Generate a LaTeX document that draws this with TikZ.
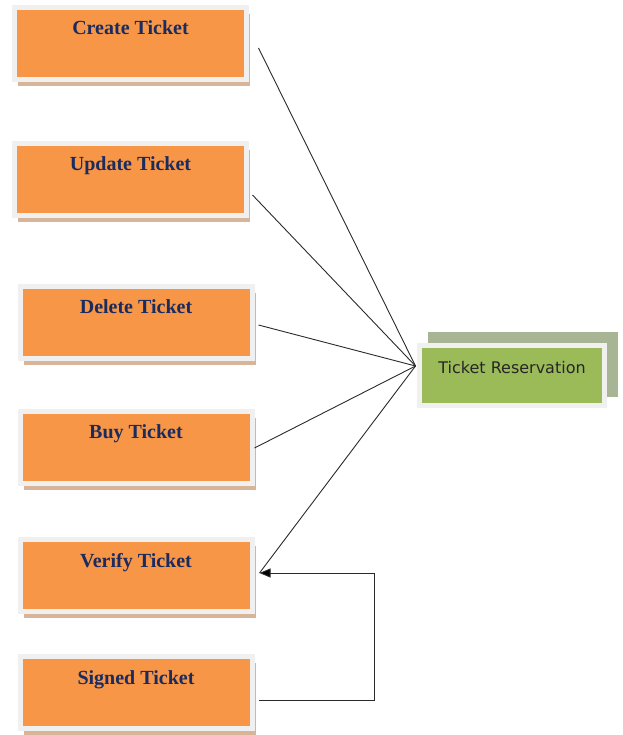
\documentclass[tikz,border=0pt]{standalone}
\usepackage{fontspec}
\newfontfamily\boxfont{Liberation Serif}
\newfontfamily\resfont{DejaVu Sans}
\usetikzlibrary{positioning,shadows,calc,arrows.meta}
\definecolor{boxorange}{HTML}{F79646}
\definecolor{boxframe}{HTML}{F0F0F0}
\definecolor{boxshade}{HTML}{D8B598}
\definecolor{boxtext}{HTML}{1A2B5F}
\definecolor{resgreen}{HTML}{9BBB59}
\definecolor{resback}{HTML}{A8B594}
\definecolor{linkgrey}{HTML}{2A2A2A}

\begin{document}
\begin{tikzpicture}[x=1pt,y=-1pt,task/.style={draw=boxframe,line width=5pt,fill=boxorange,minimum width=232pt,inner sep=0pt,text height=27.5pt,text depth=44.5pt,text=boxtext,font=\boxfont\bfseries\fontsize{20}{24}\selectfont,drop shadow={shadow xshift=3.5pt,shadow yshift=-6.5pt,fill=boxshade,opacity=1}},res/.style={draw=boxframe,line width=5pt,fill=resgreen,minimum width=185pt,inner sep=0pt,text height=27.5pt,text depth=32.5pt,text=black!85,font=\resfont\fontsize{16}{19}\selectfont},link/.style={draw=linkgrey,line width=0.9pt}]
\useasboundingbox (0,0) rectangle (622,735);
\node[task] (create) at (130.5,43.5) {Create Ticket};
\node[task] (update) at (130.5,179.5) {Update Ticket};
\node[task] (delete) at (136,322) {Delete Ticket};
\node[task] (buy) at (136,447) {Buy Ticket};
\node[task] (verify) at (136,575.5) {Verify Ticket};
\node[task] (signed) at (136,692.5) {Signed Ticket};
\node[fill=resback,minimum width=190pt,minimum height=65pt,inner sep=0pt] (resback) at (523,364.5) {};
\node[res] (reservation) at (512,375.5) {Ticket Reservation};
\coordinate (hub) at ($(reservation.west)+(-1.5,-9.5)$);
\coordinate (verifyin) at ($(verify.east)+(5,-2.5)$);
\draw[link] (hub) -- ($(create.east)+(9.5,4.5)$);
\draw[link] (hub) -- ($(update.east)+(3.5,15.5)$);
\draw[link] (hub) -- ($(delete.east)+(4,3)$);
\draw[link] (hub) -- ($(buy.east)+(0,1)$);
\draw[link] (hub) -- (verifyin);
\draw[link,-{Triangle[length=11pt,width=9pt,fill=black]}] ($(signed.east)+(4,7.5)$) -| ($(verifyin)+(115,0)$) -- (verifyin);
\end{tikzpicture}
\end{document}
